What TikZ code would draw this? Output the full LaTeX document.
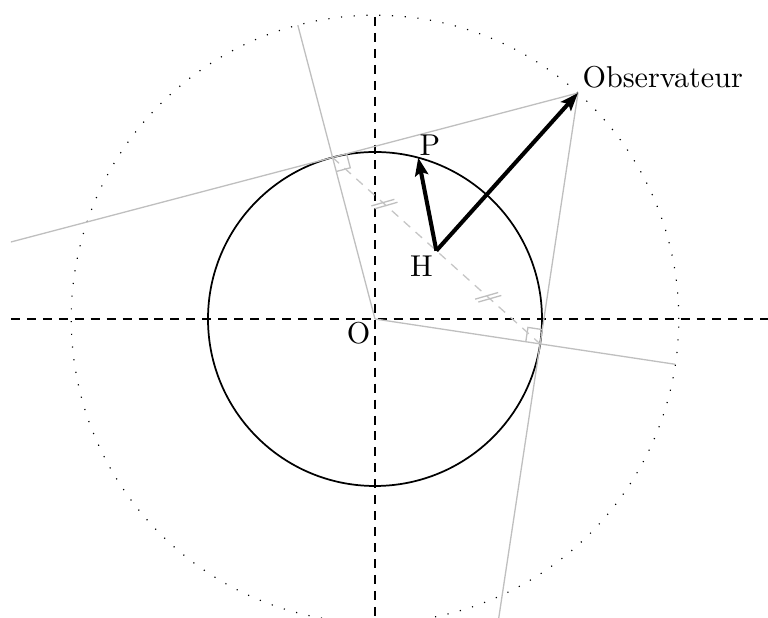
\documentclass[tikz,border=0pt]{standalone}
\usetikzlibrary{calc,arrows.meta}
\begin{document}
\begin{tikzpicture}[x=0.345pt,y=0.345pt,
  gline/.style={draw=gray!50,line width=0.45pt},
  gdash/.style={draw=gray!45,line width=0.45pt,dash pattern=on 3pt off 2.5pt},
  axis/.style={draw=black,line width=0.6pt,dash pattern=on 3.1pt off 2.4pt},
  vec/.style={draw=black,line width=1.4pt,-{Stealth[length=6.2pt,width=4.6pt,inset=1.2pt]}},
  lab/.style={inner sep=0pt,font=\fontsize{10.4}{12}\selectfont}]
\useasboundingbox (-375,-299) rectangle (393,319);
\clip (-364,-299) rectangle (393,304);
% points
\coordinate (O) at (0,0);
\coordinate (Obs) at (203,226);
\coordinate (T1) at (104.72:167);
\coordinate (T2) at (-8.58:167);
\coordinate (P) at (75:167);
\coordinate (H) at ($(T1)!0.5!(T2)$);
\coordinate (M1) at ($(T1)!0.5!(H)$);
\coordinate (M2) at ($(H)!0.5!(T2)$);
\coordinate (A1) at (-364,0);
\coordinate (A2) at (400,0);
\coordinate (B1) at (0,302);
\coordinate (B2) at (0,-310);
% dotted circle
\draw[line width=0.4pt,dash pattern=on 0.4pt off 4pt] (O) circle[radius=303.78];
% axes
\draw[axis] (A1) -- (A2);
\draw[axis] (B1) -- (B2);
% circle
\draw[line width=0.6pt] (O) circle[radius=167];
% radius lines and tangent lines
\draw[gline] (O) -- ($(O)!1.819!(T1)$);
\draw[gline] (O) -- ($(O)!1.819!(T2)$);
\draw[gline] (Obs) -- ($(Obs)!2.32!(T1)$);
\draw[gline] (Obs) -- ($(Obs)!2.32!(T2)$);
% right angle marks
\draw[gline] ($(T1)!5pt!(O)$) -- ($($(T1)!5pt!(O)$)+($(T1)!5pt!(Obs)$)-(T1)$) -- ($(T1)!5pt!(Obs)$);
\draw[gline] ($(T2)!5pt!(O)$) -- ($($(T2)!5pt!(O)$)+($(T2)!5pt!(Obs)$)-(T2)$) -- ($(T2)!5pt!(Obs)$);
% chord
\draw[gdash] (T1) -- (T2);
% ticks
\draw[gline] ($(M1)+(-1.6,1.45)+(-11.5,-3.3)$) -- ($(M1)+(-1.6,1.45)+(11.5,3.3)$);
\draw[gline] ($(M1)+(1.6,-1.45)+(-11.5,-3.3)$) -- ($(M1)+(1.6,-1.45)+(11.5,3.3)$);
\draw[gline] ($(M2)+(-1.6,1.45)+(-11.5,-3.3)$) -- ($(M2)+(-1.6,1.45)+(11.5,3.3)$);
\draw[gline] ($(M2)+(1.6,-1.45)+(-11.5,-3.3)$) -- ($(M2)+(1.6,-1.45)+(11.5,3.3)$);
% vectors
\draw[vec] (H) -- (P);
\draw[vec] (H) -- (Obs);
% labels
\node[lab] (Plab) at (55,174) {P};
\node[lab] (Hlab) at (46.5,52.5) {H};
\node[lab] (Olab) at (-16.5,-14.5) {O};
\node[lab,anchor=base west] (Obslab) at (207,231) {Observateur};
\end{tikzpicture}
\end{document}
